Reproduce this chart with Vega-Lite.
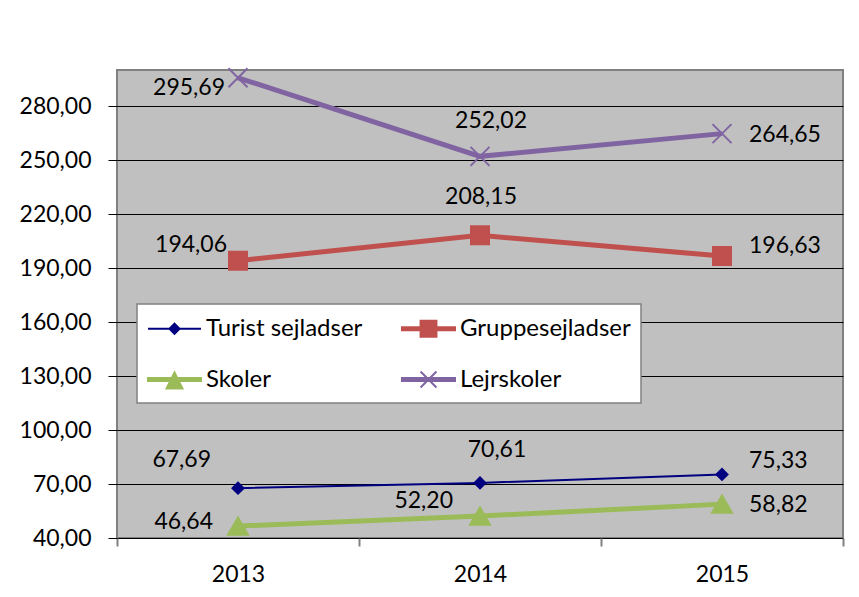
{
  "$schema": "https://vega.github.io/schema/vega-lite/v6.json",
  "width": 726,
  "height": 468,
  "autosize": "none",
  "padding": {"left": 117, "top": 70, "right": 16, "bottom": 59},
  "background": "white",
  "config": {
    "locale": {"number": {"decimal": ",", "thousands": ".", "grouping": [3], "currency": ["", " kr."]}},
    "view": {"fill": "#C0C0C0", "stroke": "#808080", "strokeWidth": 2},
    "font": "Lato",
    "axis": {"labelFont": "Lato", "labelFontSize": 23, "labelColor": "black", "title": null, "domain": false},
    "legend": {
      "orient": "none", "legendX": 20, "legendY": 234, "columns": 2, "direction": "horizontal",
      "fillColor": "white", "strokeColor": "#808080", "strokeWidth": 1.5, "padding": 10,
      "labelFont": "Lato", "labelFontSize": 24, "labelColor": "black", "labelLimit": 0,
      "symbolSize": 702, "symbolStrokeWidth": 2, "symbolOffset": 13, "labelOffset": 17,
      "rowPadding": 24, "columnPadding": 35
    }
  },
  "data": {
    "values": [
      {"series": "Turist sejladser", "year": "2013", "value": 67.69},
      {"series": "Turist sejladser", "year": "2014", "value": 70.61},
      {"series": "Turist sejladser", "year": "2015", "value": 75.33},
      {"series": "Gruppesejladser", "year": "2013", "value": 194.06},
      {"series": "Gruppesejladser", "year": "2014", "value": 208.15},
      {"series": "Gruppesejladser", "year": "2015", "value": 196.63},
      {"series": "Skoler", "year": "2013", "value": 46.64},
      {"series": "Skoler", "year": "2014", "value": 52.20},
      {"series": "Skoler", "year": "2015", "value": 58.82},
      {"series": "Lejrskoler", "year": "2013", "value": 295.69},
      {"series": "Lejrskoler", "year": "2014", "value": 252.02},
      {"series": "Lejrskoler", "year": "2015", "value": 264.65}
    ]
  },
  "encoding": {
    "x": {
      "field": "year", "type": "ordinal",
      "scale": {"type": "band", "paddingInner": 0, "paddingOuter": 0},
      "axis": {"labelAngle": 0, "tickBand": "extent", "tickColor": "#808080", "tickSize": 8, "tickWidth": 2, "labelPadding": 17, "grid": false, "title": null}
    },
    "y": {
      "field": "value", "type": "quantitative",
      "scale": {"domain": [40, 300], "nice": false, "zero": false},
      "axis": {"values": [40, 70, 100, 130, 160, 190, 220, 250, 280], "format": ".2f", "grid": true, "gridColor": "black", "gridWidth": 1, "gridOpacity": 1, "tickColor": "black", "tickSize": 9, "labelPadding": 17, "title": null}
    }
  },
  "layer": [
    {
      "transform": [{"filter": "datum.series !== 'Turist sejladser'"}],
      "mark": {"type": "line", "strokeWidth": 5},
      "encoding": {
        "color": {
          "field": "series", "type": "nominal",
          "scale": {"domain": ["Turist sejladser", "Gruppesejladser", "Skoler", "Lejrskoler"], "range": ["#000080", "#C0504D", "#9BBB59", "#8064A2"]},
          "legend": {
            "title": null,
            "encoding": {
              "symbols": {
                "shape": {"value": {"expr": "datum.value === 'Turist sejladser' ? 'M-2,0L2,0M0,-0.38L0.38,0L0,0.38L-0.38,0Z' : datum.value === 'Gruppesejladser' ? 'M-2,-0.11H2V0.11H-2ZM-0.6,-0.6H0.6V0.6H-0.6Z' : datum.value === 'Skoler' ? 'M-2,-0.11H2V0.11H-2ZM0,-0.53L0.6,0.68L-0.6,0.68Z' : 'M-2,-0.11H2V0.11H-2ZM-0.6,-0.6L0.6,0.6M-0.6,0.6L0.6,-0.6'"}},
                "fill": {"value": {"expr": "scale('color', datum.value)"}},
                "strokeWidth": {"value": 2},
                "size": {"value": 702},
                "opacity": {"value": 1}
              }
            }
          }
        }
      }
    },
    {
      "transform": [{"filter": "datum.series === 'Turist sejladser'"}],
      "mark": {"type": "line", "strokeWidth": 2},
      "encoding": {
        "color": {
          "field": "series", "type": "nominal",
          "scale": {"domain": ["Turist sejladser", "Gruppesejladser", "Skoler", "Lejrskoler"], "range": ["#000080", "#C0504D", "#9BBB59", "#8064A2"]}
        }
      }
    },
    {
      "transform": [{"filter": "datum.series === 'Turist sejladser'"}],
      "mark": {"type": "point", "shape": "diamond", "size": 121, "filled": true, "opacity": 1, "fill": "#000080", "stroke": "#000080", "strokeWidth": 2},
      "encoding": {}
    },
    {
      "transform": [{"filter": "datum.series === 'Gruppesejladser'"}],
      "mark": {"type": "point", "shape": "square", "size": 324, "filled": true, "opacity": 1, "fill": "#C0504D", "stroke": "#C0504D", "strokeWidth": 2},
      "encoding": {}
    },
    {
      "transform": [{"filter": "datum.series === 'Skoler'"}],
      "mark": {"type": "point", "shape": "triangle-up", "size": 400, "filled": true, "opacity": 1, "fill": "#9BBB59", "stroke": "#9BBB59", "strokeWidth": 2},
      "encoding": {}
    },
    {
      "transform": [{"filter": "datum.series === 'Lejrskoler'"}],
      "mark": {"type": "point", "shape": "M-1,-1L1,1M-1,1L1,-1", "size": 361, "filled": false, "opacity": 1, "stroke": "#8064A2", "strokeWidth": 2},
      "encoding": {}
    },
    {"transform": [{"filter": "datum.series === 'Lejrskoler' && datum.year === '2013'"}], "mark": {"type": "text", "align": "right", "baseline": "middle", "dx": -13, "dy": 10, "fontSize": 23, "font": "Lato", "color": "black"}, "encoding": {"text": {"field": "value", "type": "quantitative", "format": ".2f"}}},
    {"transform": [{"filter": "datum.series === 'Gruppesejladser' && datum.year === '2013'"}], "mark": {"type": "text", "align": "right", "baseline": "middle", "dx": -11, "dy": -16, "fontSize": 23, "font": "Lato", "color": "black"}, "encoding": {"text": {"field": "value", "type": "quantitative", "format": ".2f"}}},
    {"transform": [{"filter": "datum.series === 'Turist sejladser' && datum.year === '2013'"}], "mark": {"type": "text", "align": "right", "baseline": "middle", "dx": -27, "dy": -28, "fontSize": 23, "font": "Lato", "color": "black"}, "encoding": {"text": {"field": "value", "type": "quantitative", "format": ".2f"}}},
    {"transform": [{"filter": "datum.series === 'Skoler' && datum.year === '2013'"}], "mark": {"type": "text", "align": "right", "baseline": "middle", "dx": -25, "dy": -4, "fontSize": 23, "font": "Lato", "color": "black"}, "encoding": {"text": {"field": "value", "type": "quantitative", "format": ".2f"}}},
    {"transform": [{"filter": "datum.series === 'Lejrskoler' && datum.year === '2014'"}], "mark": {"type": "text", "align": "center", "baseline": "middle", "dx": 11, "dy": -35, "fontSize": 23, "font": "Lato", "color": "black"}, "encoding": {"text": {"field": "value", "type": "quantitative", "format": ".2f"}}},
    {"transform": [{"filter": "datum.series === 'Gruppesejladser' && datum.year === '2014'"}], "mark": {"type": "text", "align": "center", "baseline": "middle", "dx": 1, "dy": -38, "fontSize": 23, "font": "Lato", "color": "black"}, "encoding": {"text": {"field": "value", "type": "quantitative", "format": ".2f"}}},
    {"transform": [{"filter": "datum.series === 'Turist sejladser' && datum.year === '2014'"}], "mark": {"type": "text", "align": "center", "baseline": "middle", "dx": 17, "dy": -33, "fontSize": 23, "font": "Lato", "color": "black"}, "encoding": {"text": {"field": "value", "type": "quantitative", "format": ".2f"}}},
    {"transform": [{"filter": "datum.series === 'Skoler' && datum.year === '2014'"}], "mark": {"type": "text", "align": "right", "baseline": "middle", "dx": -27, "dy": -15, "fontSize": 23, "font": "Lato", "color": "black"}, "encoding": {"text": {"field": "value", "type": "quantitative", "format": ".2f"}}},
    {"transform": [{"filter": "(datum.series === 'Lejrskoler' || datum.series === 'Skoler') && datum.year === '2015'"}], "mark": {"type": "text", "align": "left", "baseline": "middle", "dx": 27, "dy": 1, "fontSize": 23, "font": "Lato", "color": "black"}, "encoding": {"text": {"field": "value", "type": "quantitative", "format": ".2f"}}},
    {"transform": [{"filter": "datum.series === 'Gruppesejladser' && datum.year === '2015'"}], "mark": {"type": "text", "align": "left", "baseline": "middle", "dx": 27, "dy": -10, "fontSize": 23, "font": "Lato", "color": "black"}, "encoding": {"text": {"field": "value", "type": "quantitative", "format": ".2f"}}},
    {"transform": [{"filter": "datum.series === 'Turist sejladser' && datum.year === '2015'"}], "mark": {"type": "text", "align": "left", "baseline": "middle", "dx": 27, "dy": -13, "fontSize": 23, "font": "Lato", "color": "black"}, "encoding": {"text": {"field": "value", "type": "quantitative", "format": ".2f"}}}
  ]
}
